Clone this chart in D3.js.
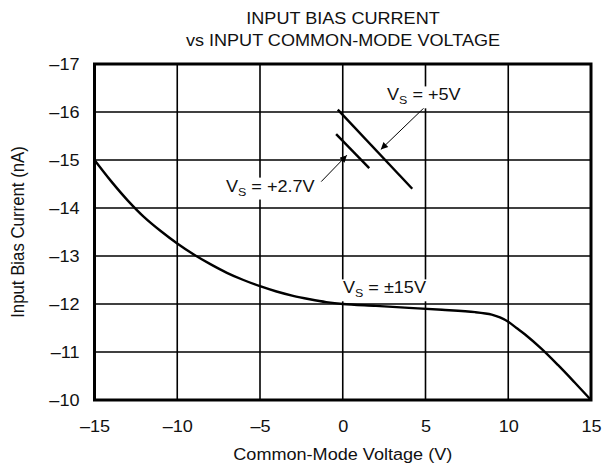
<!DOCTYPE html>
<html>
<head>
<meta charset="utf-8">
<script src="https://cdn.jsdelivr.net/npm/d3@7"></script>
<style>
  body { margin: 0; background: #fff; }
  svg text { font-family: "Liberation Sans", Arial, sans-serif; fill: #111; }
</style>
</head>
<body>
<div id="chart"></div>
<script>
// V_S = ±15V curve
const vcm15 = [-15, -14, -13, -12, -11, -10, -9, -8, -7, -6, -5, -4, -3, -2, -1, 0, 2, 4, 6, 8, 9, 9.5, 10, 10.5, 11, 12, 13, 14, 15]
const ib15 = [-15.0, -14.56, -14.16, -13.81, -13.52, -13.26, -13.03, -12.83, -12.65, -12.5, -12.37, -12.26, -12.17, -12.1, -12.04, -12.0, -11.96, -11.92, -11.88, -11.83, -11.78, -11.72, -11.63, -11.5, -11.37, -11.07, -10.73, -10.37, -10.0]

// short straight segments for +5V and +2.7V
const vcm5 = [-0.3, 4.2]
const ib5 = [-16.05, -14.4]
const vcm27 = [-0.4, 1.6]
const ib27 = [-15.54, -14.83]

const xTicks = [-15, -10, -5, 0, 5, 10, 15]
const yTicks = [-17, -16, -15, -14, -13, -12, -11, -10]

// the source art is a bit stretched sideways
const sx = 1.13

function draw() {
    const dimensions = {
        width: 613,
        height: 466,
        margin: { top: 64, bottom: 66, left: 94.5, right: 22 }
    }
    const w = dimensions.width - dimensions.margin.left - dimensions.margin.right
    const h = dimensions.height - dimensions.margin.top - dimensions.margin.bottom

    const svg = d3.select('#chart')
        .append('svg')
        .attr('width', dimensions.width)
        .attr('height', dimensions.height)

    const container = svg.append('g')
        .attr('transform', `translate(${dimensions.margin.left}, ${dimensions.margin.top})`)

    const xScale = d3.scaleLinear().domain([-15, 15]).range([0, w])
    const yScale = d3.scaleLinear().domain([-10, -17]).range([h, 0])

    // grid
    container.append('g')
        .selectAll('line')
        .data(xTicks.slice(1, -1))
        .join('line')
        .attr('x1', d => xScale(d)).attr('x2', d => xScale(d))
        .attr('y1', 0).attr('y2', h)
        .attr('stroke', '#000').attr('stroke-width', 1.6)
    container.append('g')
        .selectAll('line')
        .data(yTicks.slice(1, -1))
        .join('line')
        .attr('x1', 0).attr('x2', w)
        .attr('y1', d => yScale(d)).attr('y2', d => yScale(d))
        .attr('stroke', '#000').attr('stroke-width', 1.6)

    // axes (labels only)
    const fmt = d => String(d).replace('-', '\u2013')
    const xAxis = d3.axisBottom(xScale)
        .tickValues(xTicks)
        .tickSize(0)
        .tickPadding(21)
        .tickFormat(fmt)
    const yAxis = d3.axisLeft(yScale)
        .tickValues(yTicks)
        .tickSize(0)
        .tickPadding(15 / sx)
        .tickFormat(fmt)

    const xAxisGroup = container.append('g')
        .attr('transform', `translate(0, ${h})`)
        .call(xAxis)
    const yAxisGroup = container.append('g').call(yAxis)
    ;[xAxisGroup, yAxisGroup].forEach(g => {
        g.attr('font-family', null).attr('font-size', 16)
        g.select('.domain').remove()
        g.selectAll('text')
            .attr('fill', '#111')
            .attr('transform', `scale(${sx},1)`)
    })

    // frame
    container.append('rect')
        .attr('width', w).attr('height', h)
        .attr('fill', 'none').attr('stroke', '#000').attr('stroke-width', 3)

    // ±15V curve
    const line = d3.line()
        .x(d => xScale(d[0]))
        .y(d => yScale(d[1]))
        .curve(d3.curveCatmullRom)

    container.append('path')
        .datum(vcm15.map((v, i) => [v, ib15[i]]))
        .attr('d', line)
        .attr('fill', 'none').attr('stroke', '#000').attr('stroke-width', 2.4)

    const straight = d3.line().x(d => xScale(d[0])).y(d => yScale(d[1]))
    container.append('path')
        .datum(vcm5.map((v, i) => [v, ib5[i]]))
        .attr('d', straight)
        .attr('stroke', '#000').attr('stroke-width', 2.4)
    container.append('path')
        .datum(vcm27.map((v, i) => [v, ib27[i]]))
        .attr('d', straight)
        .attr('stroke', '#000').attr('stroke-width', 2.4)

    // arrows
    svg.append('defs').append('marker')
        .attr('id', 'arrow')
        .attr('viewBox', '0 0 10 10')
        .attr('refX', 10).attr('refY', 5)
        .attr('markerWidth', 12).attr('markerHeight', 7)
        .attr('markerUnits', 'userSpaceOnUse')
        .attr('orient', 'auto')
        .append('path')
        .attr('d', 'M0,0 L10,5 L0,10 Z')
        .attr('fill', '#000')

    const arrows = [
        { from: [4.98, -16.11], to: [2.3, -15.22] },
        { from: [-1.3, -14.55], to: [0.25, -15.1] }
    ]
    container.append('g')
        .selectAll('line')
        .data(arrows)
        .join('line')
        .attr('x1', d => xScale(d.from[0])).attr('y1', d => yScale(d.from[1]))
        .attr('x2', d => xScale(d.to[0])).attr('y2', d => yScale(d.to[1]))
        .attr('stroke', '#000').attr('stroke-width', 1)
        .attr('marker-end', 'url(#arrow)')

    // annotations with white backing so grid is broken behind them
    const notes = [
        { x: 4.9, y: -16.24, main: '+5V' },
        { x: -4.38, y: -14.34, main: '+2.7V' },
        { x: 2.52, y: -12.22, main: '\u00b115V' }
    ]
    notes.forEach(n => {
        const g = container.append('g')
            .attr('transform', `translate(${xScale(n.x)}, ${yScale(n.y)}) scale(${sx},1)`)
        const t = g.append('text')
            .attr('text-anchor', 'middle')
            .attr('font-size', 16)
        t.append('tspan').text('V')
        t.append('tspan').attr('font-size', 11).attr('dy', 4).text('S')
        t.append('tspan').attr('dy', -4).text(' = ' + n.main)
        const bb = t.node().getBBox()
        g.insert('rect', 'text')
            .attr('x', bb.x - 2).attr('y', bb.y)
            .attr('width', bb.width + 4).attr('height', bb.height + 2)
            .attr('fill', '#fff')
    })

    // titles
    const stretched = (x, y, txt) => svg.append('text')
        .attr('transform', `translate(${x}, ${y}) scale(${sx},1)`)
        .attr('text-anchor', 'middle').attr('font-size', 16)
        .text(txt)

    stretched(343, 24, 'INPUT BIAS CURRENT')
    stretched(343, 46, 'vs INPUT COMMON-MODE VOLTAGE')
    stretched(dimensions.margin.left + w / 2, 460, 'Common-Mode Voltage (V)')

    svg.append('text')
        .attr('transform', `translate(24, ${dimensions.margin.top + h / 2}) rotate(-90) scale(1.05,${sx})`)
        .attr('text-anchor', 'middle').attr('font-size', 16)
        .text('Input Bias Current (nA)')
}

draw()
</script>
</body>
</html>
